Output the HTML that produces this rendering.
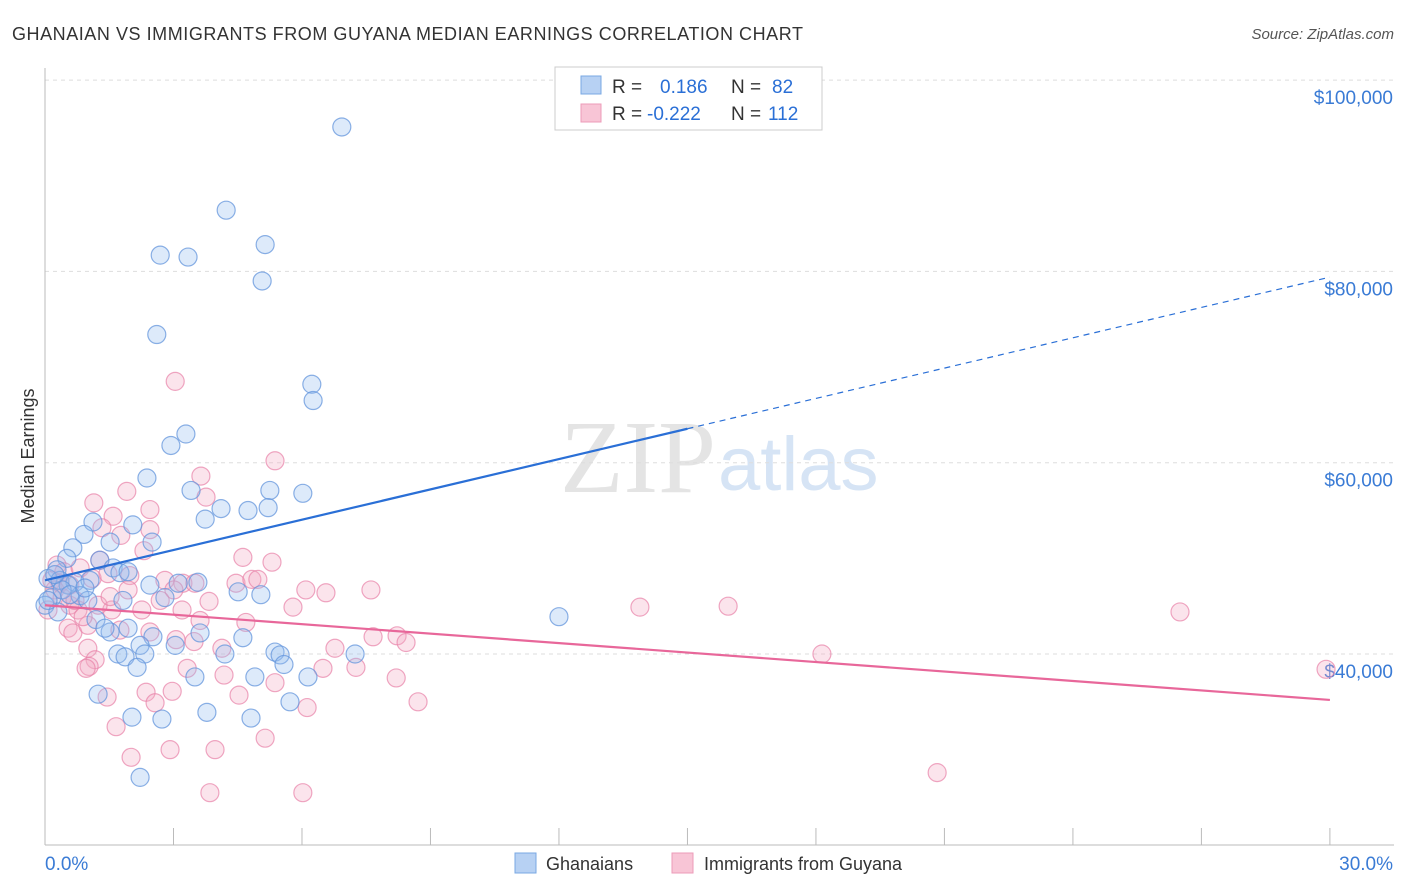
<!DOCTYPE html>
<html><head><meta charset="utf-8">
<style>
body{margin:0;background:#fff;font-family:"Liberation Sans",sans-serif;}
svg{display:block}
</style></head>
<body>
<svg id="chart" width="1406" height="892">
<text x="12" y="40" font-size="18" fill="#333" letter-spacing="0.55">GHANAIAN VS IMMIGRANTS FROM GUYANA MEDIAN EARNINGS CORRELATION CHART</text>
<text x="1394" y="39" font-size="15" fill="#555" font-style="italic" text-anchor="end">Source: ZipAtlas.com</text>
<text x="34" y="456" font-size="18" fill="#333" text-anchor="middle" transform="rotate(-90 34 456)">Median Earnings</text>
<text x="716" y="492" font-size="104" fill="#e4e4e4" text-anchor="end" font-family="Liberation Serif,serif">ZIP</text>
<text x="718" y="490" font-size="76" fill="#d6e4f5">atlas</text>
<g id="grid"></g><g id="axes"></g><g id="pts"></g><g id="trend"></g>
<g>
<rect x="555" y="67" width="267" height="63" fill="#fff" stroke="#ccc"/>
<rect x="581" y="76" width="20" height="18" fill="#b7d1f3" stroke="#7aa8e3"/>
<rect x="581" y="104" width="20" height="18" fill="#f8c5d6" stroke="#ec9bb8"/>
<text x="612" y="93" font-size="19" fill="#333">R =</text><text x="660" y="93" font-size="19" fill="#2a6fd6">0.186</text>
<text x="731" y="93" font-size="19" fill="#333">N =</text><text x="772" y="93" font-size="19" fill="#2a6fd6">82</text>
<text x="612" y="120" font-size="19" fill="#333">R =</text><text x="647" y="120" font-size="19" fill="#2a6fd6">-0.222</text>
<text x="731" y="120" font-size="19" fill="#333">N =</text><text x="768" y="120" font-size="19" fill="#2a6fd6">112</text>
</g>
<g>
<rect x="515" y="853" width="21" height="20" fill="#b7d1f3" stroke="#7aa8e3"/>
<text x="546" y="870" font-size="18" fill="#333">Ghanaians</text>
<rect x="672" y="853" width="21" height="20" fill="#f8c5d6" stroke="#ec9bb8"/>
<text x="704" y="870" font-size="18" fill="#333">Immigrants from Guyana</text>
</g>
</svg>
<script>
const blueX=[6.93,4.23,5.14,2.69,3.34,5.07,2.61,6.23,6.26,3.29,2.94,2.38,3.41,5.25,6.02,4.11,4.74,5.21,3.74,1.12,2.05,0.91,0.65,1.52,2.50,0.51,1.28,0.28,1.59,1.75,1.94,0.07,0.35,0.70,1.05,2.45,3.11,3.57,4.51,5.04,2.80,1.82,0.82,0.16,0.0,1.00,1.19,12.0,1.52,1.40,1.94,2.52,3.62,4.62,3.04,2.22,4.20,5.37,5.49,7.24,1.70,1.87,2.33,5.58,2.15,3.50,4.90,6.14,1.24,5.72,3.78,2.03,2.73,4.81,2.22,0.54,0.40,0.23,0.58,0.30,0.93,0.07];
const blueY=[95.1,86.4,82.8,81.7,81.5,79.0,73.4,68.2,66.5,63.0,61.8,58.4,57.1,57.1,56.8,55.2,55.0,55.3,54.1,53.8,53.5,52.5,51.1,51.7,51.7,50.0,49.8,48.8,49.0,48.5,48.6,47.9,47.7,47.5,47.7,47.2,47.4,47.5,46.5,46.2,45.9,45.6,46.1,45.9,45.1,45.6,43.6,43.9,42.3,42.7,42.7,41.8,42.2,41.7,40.9,40.9,40.0,40.2,39.9,40.0,40.0,39.7,40.0,38.9,38.6,37.6,37.6,37.6,35.8,35.0,33.9,33.4,33.2,33.3,27.1,47.2,46.7,48.3,46.2,44.4,46.9,45.6];
const pinkX=[3.04,5.37,3.64,1.14,1.91,3.76,1.59,2.45,1.33,1.77,2.45,2.31,4.62,5.30,1.28,0.28,0.44,0.82,0.16,0.35,0.58,1.10,1.47,1.98,2.80,3.22,3.01,3.50,4.46,4.83,4.97,6.09,6.56,7.61,3.83,2.26,3.20,5.79,13.89,15.95,26.5,0.58,0.77,1.56,3.62,4.69,0.54,0.65,1.00,1.75,2.45,3.06,4.13,3.48,6.77,7.66,8.22,8.43,1.00,1.17,1.03,0.96,3.32,4.18,6.49,7.26,8.20,5.37,18.14,2.36,2.97,4.53,1.45,2.57,6.12,8.71,1.66,5.14,2.01,2.92,3.97,20.83,3.85,6.02,29.91,0.23,0.40,0.07,0.70,0.89,1.24,1.52,1.94,2.69];
const pinkY=[68.5,60.2,58.6,55.8,57.0,56.4,54.4,55.1,53.2,52.4,53.0,50.8,50.1,49.6,49.8,49.3,48.6,49.0,47.7,47.4,47.2,47.9,48.4,48.2,47.7,47.4,46.7,47.4,47.4,47.8,47.8,46.7,46.4,46.7,45.5,44.6,44.6,44.9,44.9,45.0,44.4,45.1,44.6,44.6,43.5,43.3,42.7,42.2,43.0,42.5,42.3,41.5,40.6,41.3,40.6,41.8,41.9,41.2,40.6,39.4,38.7,38.5,38.5,37.8,38.5,38.6,37.5,37.0,40.0,36.0,36.1,35.7,35.5,34.9,34.4,35.0,32.4,31.2,29.2,30.0,30.0,27.6,25.5,25.5,38.4,46.7,45.9,44.6,45.6,43.9,45.1,46.0,46.7,45.6];
const yTicks=[100,80,60,40];
const yTickLabels=["$100,000","$80,000","$60,000","$40,000"];
const xTickVals=[0,3,6,9,12,15,18,21,24,27,30];
const blueTrend=[47.7,79.4];
const blueSolidEnd=15;
const pinkTrend=[45.1,35.2];

const NS="http://www.w3.org/2000/svg";
const X=v=>45+v*42.83;
const Y=k=>654-(k-40)*9.565;
function mk(tag,attrs,parent){const e=document.createElementNS(NS,tag);for(const a in attrs)e.setAttribute(a,attrs[a]);document.getElementById(parent).appendChild(e);return e;}
yTicks.forEach((t,i)=>{
 const g=mk('line',{x1:45,x2:1394,y1:Y(t),y2:Y(t),stroke:'#ddd','stroke-dasharray':'4,4'},'grid');
 
 
 const l=mk('text',{x:1393,y:Y(t)+24,'font-size':19,fill:'#3a7bd5','text-anchor':'end'},'axes');
 l.textContent=yTickLabels[i];
 
 
});
const ax=mk('line',{x1:45,x2:1394,y1:845,y2:845,stroke:'#bbb'},'axes');


const ay=mk('line',{x1:45,x2:45,y1:68,y2:845,stroke:'#bbb'},'axes');


xTickVals.forEach(v=>{
 const t=mk('line',{x1:X(v),x2:X(v),y1:828,y2:845,stroke:'#bbb'},'axes');
 
 
});
const xl0=mk('text',{x:45,y:870,'font-size':19,fill:'#3a7bd5'},'axes');xl0.textContent=xTickVals[0].toFixed(1)+'%';


const xl1=mk('text',{x:1393,y:870,'font-size':19,fill:'#3a7bd5','text-anchor':'end'},'axes');xl1.textContent=xTickVals[xTickVals.length-1].toFixed(1)+'%';


pinkX.forEach((v,i)=>{
 const c=mk('circle',{cx:X(v),cy:Y(pinkY[i]),r:9,fill:'rgba(244,170,196,0.32)',stroke:'rgba(232,130,168,0.7)','stroke-width':1.2},'pts');
 
 
});
blueX.forEach((v,i)=>{
 const c=mk('circle',{cx:X(v),cy:Y(blueY[i]),r:9,fill:'rgba(150,190,240,0.32)',stroke:'rgba(100,150,220,0.75)','stroke-width':1.2},'pts');
 
 
});
const bAt=x=>blueTrend[0]+(blueTrend[1]-blueTrend[0])*x/30;
const b1=mk('line',{x1:X(0),y1:Y(bAt(0)),x2:X(blueSolidEnd),y2:Y(bAt(blueSolidEnd)),stroke:'#2a6fd6','stroke-width':2.2},'trend');


const b2=mk('line',{x1:X(blueSolidEnd),y1:Y(bAt(blueSolidEnd)),x2:X(30),y2:Y(bAt(30)),stroke:'#2a6fd6','stroke-width':1.2,'stroke-dasharray':'6,5'},'trend');


const p1=mk('line',{x1:X(0),y1:Y(pinkTrend[0]),x2:X(30),y2:Y(pinkTrend[1]),stroke:'#e8679a','stroke-width':2.2},'trend');


</script>
</body></html>
